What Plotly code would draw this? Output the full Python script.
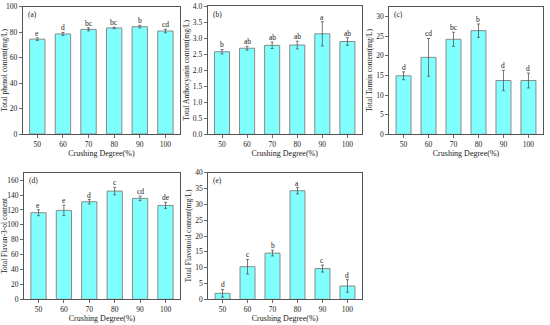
import plotly.graph_objects as go

degrees = [50, 60, 70, 80, 90, 100]

phenol = [74.5, 78.6, 82.2, 83.3, 84.3, 80.9]
phenol_err = [1.0, 1.2, 1.2, 0.6, 1.0, 1.4]
phenol_sig = ["e", "d", "bc", "bc", "b", "cd"]

antho = [2.58, 2.69, 2.78, 2.79, 3.14, 2.90]
antho_err = [0.07, 0.06, 0.10, 0.12, 0.38, 0.12]
antho_sig = ["b", "ab", "ab", "ab", "a", "ab"]

tannin = [14.9, 19.6, 24.2, 26.4, 13.7, 13.7]
tannin_err = [1.0, 4.8, 1.8, 1.7, 2.6, 1.9]
tannin_sig = ["d", "cd", "bc", "b", "d", "d"]

flavanol = [116.3, 119.4, 131.0, 145.3, 135.5, 126.1]
flavanol_err = [4.0, 7.0, 3.0, 5.0, 3.0, 4.0]
flavanol_sig = ["e", "e", "d", "c", "cd", "de"]

flavonoid = [1.9, 10.3, 14.6, 34.3, 9.7, 4.2]
flavonoid_err = [1.2, 2.3, 0.9, 1.0, 1.1, 2.0]
flavonoid_sig = ["d", "c", "b", "a", "c", "d"]

W, H = 550, 325

def dom_x(l, r):
    return [l / W, r / W]

def dom_y(t, b):
    return [1 - b / H, 1 - t / H]

panels = [
    dict(tag="(a)", vals=phenol, err=phenol_err, sig=phenol_sig,
         title="Total phenol content(mg/L)", yr=[0, 100], dt=20, fmt="d",
         xd=dom_x(22.7, 180), yd=dom_y(6.7, 134)),
    dict(tag="(b)", vals=antho, err=antho_err, sig=antho_sig,
         title="Total Anthocyanin content(mg/L)", yr=[0, 4], dt=0.5, fmt=".1f",
         xd=dom_x(207.7, 361.7), yd=dom_y(6.3, 134.3)),
    dict(tag="(c)", vals=tannin, err=tannin_err, sig=tannin_sig,
         title="Total Tannin content(mg/L)", yr=[0, 32.5], dt=5, fmt="d",
         xd=dom_x(389.3, 542.7), yd=dom_y(6.7, 134.3)),
    dict(tag="(d)", vals=flavanol, err=flavanol_err, sig=flavanol_sig,
         title="Total Flavan-3-ol content", yr=[0, 170], dt=20, fmt="d",
         xd=dom_x(24, 180), yd=dom_y(172.7, 299.3)),
    dict(tag="(e)", vals=flavonoid, err=flavonoid_err, sig=flavonoid_sig,
         title="Total Flavonoid content(mg/L)", yr=[0, 40], dt=5, fmt="d",
         xd=dom_x(208.3, 361.7), yd=dom_y(172.7, 299.3)),
]

FONT = "Liberation Serif, Times New Roman, serif"
TXT = "#1a1a1a"
fig = go.Figure()
annotations = []
layout = {}

for i, p in enumerate(panels):
    n = "" if i == 0 else str(i + 1)
    xa, ya = "x" + n, "y" + n
    fig.add_trace(go.Bar(
        x=degrees, y=p["vals"], width=6,
        marker=dict(color="#80FFFF", line=dict(color="#8a8a8a", width=1)),
        error_y=dict(type="data", array=p["err"], color="#555555", thickness=0.8, width=1.5),
        xaxis=xa, yaxis=ya, showlegend=False, hoverinfo="skip",
    ))
    layout["xaxis" + n] = dict(
        domain=p["xd"], anchor=ya, range=[44.3, 105.7], automargin=False,
        tickvals=degrees, ticktext=[str(d) for d in degrees],
        ticks="outside", ticklen=3, tickcolor="#444", tickwidth=0.8,
        showline=True, linecolor="#555", linewidth=1, mirror=True,
        showgrid=False, zeroline=False,
        tickfont=dict(family=FONT, size=7.5, color=TXT),
        title=dict(text="Crushing Degree(%)", font=dict(family=FONT, size=8, color=TXT), standoff=2),
    )
    layout["yaxis" + n] = dict(
        domain=p["yd"], anchor=xa, range=p["yr"], dtick=p["dt"], tick0=0,
        tickformat=p["fmt"], automargin=False,
        ticks="outside", ticklen=3, tickcolor="#444", tickwidth=0.8,
        showline=True, linecolor="#555", linewidth=1, mirror=True,
        showgrid=False, zeroline=False,
        tickfont=dict(family=FONT, size=7.5, color=TXT),
        title=dict(text=p["title"], font=dict(family=FONT, size=7.5, color=TXT), standoff=2),
    )
    annotations.append(dict(
        xref=xa + " domain", yref=ya + " domain", x=0.02, y=0.99,
        xanchor="left", yanchor="top", showarrow=False, text=p["tag"],
        font=dict(family=FONT, size=7.5, color=TXT),
    ))
    for d, v, e, s in zip(degrees, p["vals"], p["err"], p["sig"]):
        annotations.append(dict(
            xref=xa, yref=ya, x=d, y=v + e, yanchor="bottom", xanchor="center",
            showarrow=False, text=s, yshift=-2,
            font=dict(family=FONT, size=7.5, color=TXT),
        ))

fig.update_layout(
    width=W, height=H, margin=dict(l=0, r=0, t=0, b=0),
    plot_bgcolor="white", paper_bgcolor="white",
    annotations=annotations, bargap=0, hovermode=False, **layout,
)

fig.write_html(
    "out.html",
    config={"displayModeBar": False, "staticPlot": True},
    post_script="document.body.style.margin='0';document.body.style.overflow='hidden';",
)
